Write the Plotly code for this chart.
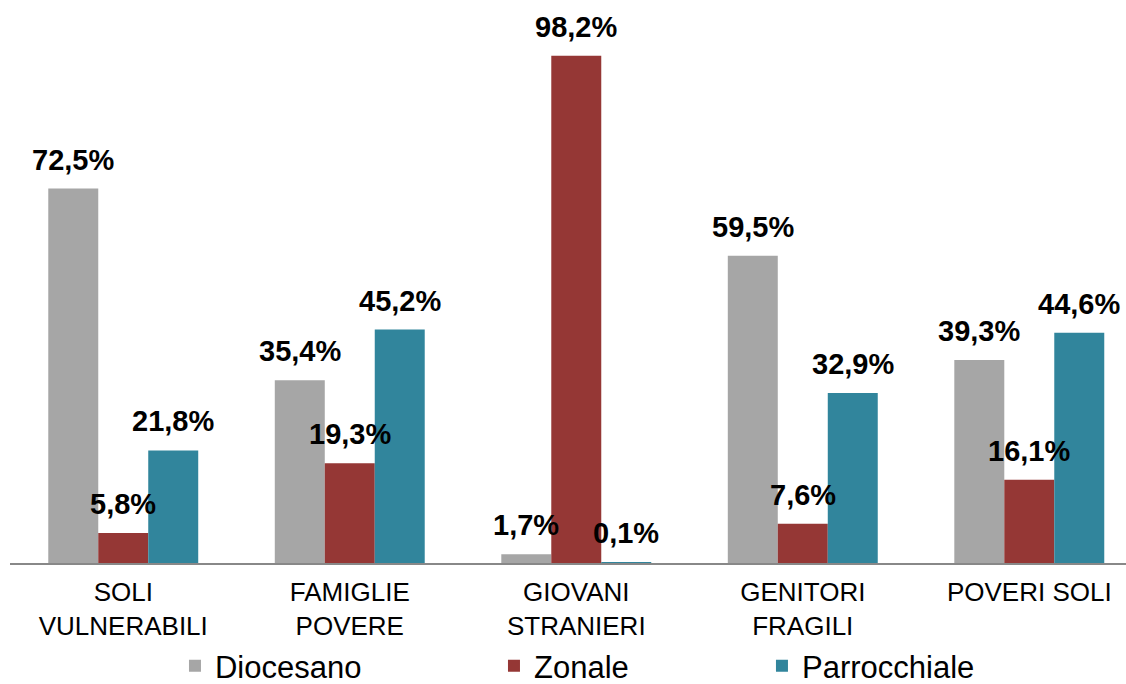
import plotly.graph_objects as go

categories = ["SOLI<br>VULNERABILI", "FAMIGLIE<br>POVERE", "GIOVANI<br>STRANIERI", "GENITORI<br>FRAGILI", "POVERI SOLI"]
diocesano = [72.5, 35.4, 1.7, 59.5, 39.3]
zonale = [5.8, 19.3, 98.2, 7.6, 16.1]
parrocchiale = [21.8, 45.2, 0.1, 32.9, 44.6]

series = [
    ("Diocesano", diocesano, "#A6A6A6", "legend", -50),
    ("Zonale", zonale, "#953735", "legend2", 0),
    ("Parrocchiale", parrocchiale, "#31859C", "legend3", 50),
]

fig = go.Figure()
for name, vals, color, leg, _ in series:
    fig.add_trace(go.Bar(x=categories, y=vals, name=name, marker_color=color,
                         marker_line_width=0, legend=leg, showlegend=True))

def fmt(v):
    return f"{v:.1f}".replace(".", ",") + "%"

for name, vals, color, leg, dx in series:
    for c, v in zip(categories, vals):
        fig.add_annotation(x=c, y=v, text=fmt(v), showarrow=False, xshift=dx, yshift=11,
                           yanchor="bottom", font=dict(family="Liberation Sans, Arial", size=29, color="black", weight="bold"))

legfont = dict(family="Liberation Sans, Arial", size=31, color="black")
legcommon = dict(orientation="h", xref="container", yref="container", y=0.026,
                 xanchor="left", yanchor="middle", font=legfont, bgcolor="rgba(0,0,0,0)")
fig.update_layout(
    width=1126, height=684,
    showlegend=True,
    margin=dict(l=10, r=0, t=0, b=121, autoexpand=False),
    plot_bgcolor="white", paper_bgcolor="white",
    barmode="group", bargap=0.338, bargroupgap=0,
    xaxis=dict(range=[-0.5, 4.427], showline=True, linecolor="#888888", linewidth=1.5,
               automargin=False, ticks="", ticklabelstandoff=5,
               tickfont=dict(family="Liberation Sans, Arial", size=26, color="black")),
    yaxis=dict(range=[0, 109], visible=False, showgrid=False, automargin=False),
    legend=dict(x=0.1554, **legcommon),
    legend2=dict(x=0.4387, **legcommon),
    legend3=dict(x=0.6767, **legcommon),
)
fig.write_html("out.html")
